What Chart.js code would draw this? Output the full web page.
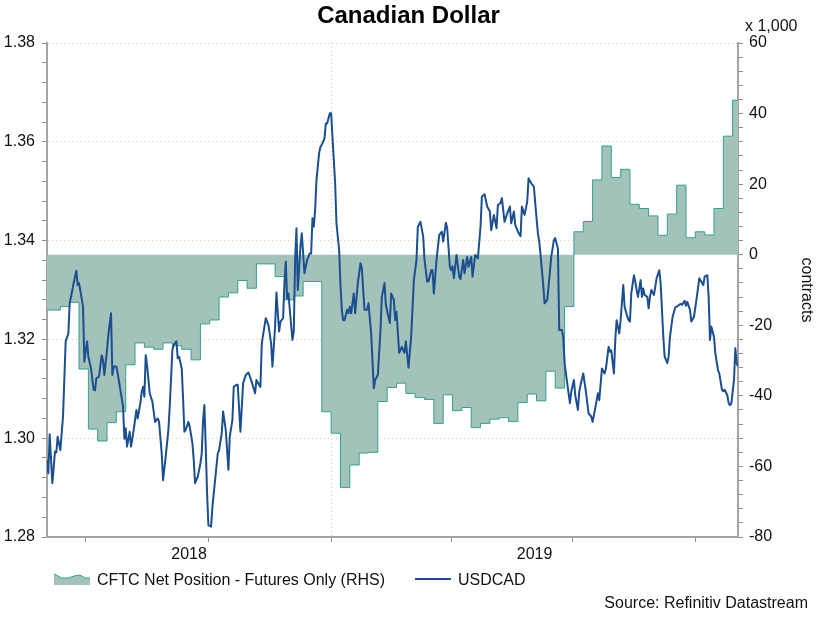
<!DOCTYPE html>
<html><head><meta charset="utf-8">
<script src="https://cdn.jsdelivr.net/npm/chart.js@4.4.1/dist/chart.umd.min.js"></script>
<style>
html,body{margin:0;padding:0;background:#fff;}
#wrap{position:relative;width:824px;height:631px;overflow:hidden;font-family:"Liberation Sans",Arial,sans-serif;color:#111;background:#fff;}
#c{position:absolute;left:0;top:0;}
.t{position:absolute;white-space:nowrap;font-size:16px;line-height:16px;}
</style></head><body>
<div id="wrap">
<canvas id="c" width="824" height="631"></canvas>
<div class="t" style="left:0;width:817px;text-align:center;top:3px;font-size:24px;line-height:24px;font-weight:bold;color:#000;">Canadian Dollar</div>
<div class="t" style="left:745px;top:18px;">x 1,000</div>
<div class="t" style="left:757px;top:282px;width:100px;text-align:center;transform:rotate(90deg);">contracts</div>
<svg style="position:absolute;left:54px;top:572px;" width="36" height="13" viewBox="0 0 36 13">
  <polygon points="0,2 8,6 14,6 20,4 26,3 31,6 36,6 36,13 0,13" fill="rgb(163,194,186)"/>
  <polyline points="0,2 8,6 14,6 20,4 26,3 31,6 36,6" fill="none" stroke="rgb(52,160,142)" stroke-width="1"/>
</svg>
<div class="t" style="left:97px;top:572px;">CFTC Net Position - Futures Only (RHS)</div>
<div style="position:absolute;left:415px;top:578px;width:36px;height:2px;background:#1c4f8f;"></div>
<div class="t" style="left:458px;top:572px;">USDCAD</div>
<div class="t" style="right:16px;top:595px;">Source: Refinitiv Datastream</div>
</div>
<script>
// ---- time frame (days counted from 2019-01-01) ----
const BASE = Date.UTC(2019, 0, 1);
const dayOf = s => (Date.parse(s + 'T00:00:00Z') - BASE) / 86400000;

const xStart = '2018-06-02';
const xEnd = '2019-11-02';
const quarterTicks = ['2018-07-01', '2018-10-01', '2019-01-01', '2019-04-01', '2019-07-01', '2019-10-01'];
const yearLabels = ['2018', '2019'];
const yearBoundary = '2019-01-01';

// ---- USDCAD (daily, day offset from 2019-01-01) ----
const usdcadDay = [
-213,-212,-211,-209,-207,-206,-205,-203,-201,-199,-197,-196,-194,-193,-191,-190,-189,-187,-186,-185,
-183,-182,-180,-178,-177,-176,-174,-172,-171,-170,-168,-167,-165,-164,-163,-161,-160,-158,-156,-155,
-154,-153,-151,-150,-148,-146,-145,-143,-142,-141,-140,-139,-138,-136,-134,-132,-130,-129,-127,-126,
-124,-122,-121,-119,-118,-116,-115,-114,-112,-111,-110,-109,-107,-106,-104,-103,-102,-100,-98,-97,
-96,-95,-94,-93,-92,-90,-89,-87,-85,-84,-82,-81,-79,-77,-76,-74,-73,-71,-70,-68,
-66,-64,-62,-60,-57,-56,-54,-53,-52,-49,-47,-45,-44,-42,-41,-39,-38,-36,-35,-34,
-33,-32,-31,-29,-28,-27,-26,-25,-23,-22,-20,-18,-16,-15,-14,-13,-12,-11,-9,-8,
-7,-5,-4,-3,-1,0,1,3,4,6,7,8,9,10,12,13,14,15,17,18,
20,22,23,25,27,28,30,32,33,35,37,38,40,41,44,45,47,48,49,51,
53,55,56,58,60,62,64,65,67,69,70,72,73,75,76,77,79,81,83,84,
86,87,89,90,91,92,94,96,97,99,100,102,103,105,106,108,110,112,113,115,
117,119,120,122,124,125,127,128,130,132,134,135,137,138,140,142,143,145,147,148,
150,152,153,155,156,157,159,160,162,163,165,167,168,170,171,173,174,175,177,179,
180,182,183,185,186,187,189,191,193,195,196,198,200,201,203,205,206,208,209,210,
212,213,214,216,217,219,220,222,223,224,225,227,228,229,230,232,233,234,235,237,
238,239,240,242,243,244,246,247,248,249,250,252,253,254,256,258,260,262,263,265,
266,267,269,270,272,274,276,277,279,280,282,283,284,285,287,288,290,291,293,294,
295,297,298,299,300,302,303,304,305
];
const usdcadValue = [
1.2956,1.2929,1.3008,1.2909,1.2973,1.2971,1.3003,1.2976,1.3044,1.3196,1.3212,1.3273,1.3300,1.3314,1.3339,1.3310,1.3314,1.3283,1.3266,1.3155,
1.3196,1.3165,1.3141,1.3098,1.3097,1.3121,1.3125,1.3168,1.3158,1.3128,1.3179,1.3209,1.3253,1.3128,1.3145,1.3145,1.3131,1.3098,1.3064,1.2999,
1.3020,1.2983,1.3013,1.2983,1.3017,1.3057,1.3040,1.3071,1.3094,1.3104,1.3084,1.3168,1.3148,1.3091,1.3074,1.3033,1.3040,1.3033,1.2969,1.2915,
1.2963,1.3017,1.3064,1.3179,1.3189,1.3196,1.3162,1.3165,1.3141,1.3081,1.3013,1.3017,1.3033,1.3023,1.2990,1.2956,1.2909,1.2922,1.2949,1.2969,
1.3037,1.3067,1.2983,1.2888,1.2824,1.2821,1.2861,1.2915,1.2969,1.2976,1.3010,1.3054,1.3017,1.2936,1.3003,1.3037,1.3104,1.3108,1.3108,1.3013,
1.3111,1.3128,1.3133,1.3118,1.3091,1.3118,1.3108,1.3104,1.3192,1.3243,1.3229,1.3192,1.3145,1.3226,1.3295,1.3216,1.3236,1.3243,1.3314,1.3357,
1.3283,1.3293,1.3260,1.3199,1.3216,1.3361,1.3425,1.3300,1.3388,1.3415,1.3334,1.3361,1.3374,1.3374,1.3445,1.3428,1.3462,1.3523,1.3577,1.3590,
1.3594,1.3607,1.3637,1.3637,1.3658,1.3658,1.3610,1.3516,1.3435,1.3381,1.3310,1.3260,1.3239,1.3239,1.3260,1.3253,1.3266,1.3253,1.3293,1.3253,
1.3314,1.3354,1.3344,1.3260,1.3260,1.3273,1.3212,1.3101,1.3118,1.3128,1.3219,1.3286,1.3314,1.3270,1.3233,1.3293,1.3280,1.3239,1.3256,1.3173,
1.3185,1.3173,1.3196,1.3143,1.3206,1.3320,1.3361,1.3428,1.3438,1.3408,1.3361,1.3317,1.3317,1.3340,1.3340,1.3293,1.3361,1.3411,1.3418,1.3398,
1.3436,1.3425,1.3347,1.3340,1.3348,1.3324,1.3371,1.3327,1.3322,1.3361,1.3334,1.3367,1.3347,1.3367,1.3327,1.3371,1.3364,1.3428,1.3489,1.3494,
1.3469,1.3459,1.3421,1.3452,1.3425,1.3472,1.3476,1.3486,1.3438,1.3455,1.3469,1.3435,1.3459,1.3432,1.3418,1.3409,1.3469,1.3452,1.3479,1.3526,
1.3516,1.3509,1.3476,1.3415,1.3398,1.3371,1.3310,1.3273,1.3280,1.3307,1.3367,1.3401,1.3405,1.3384,1.3219,1.3219,1.3205,1.3152,1.3111,1.3071,
1.3094,1.3118,1.3087,1.3057,1.3094,1.3108,1.3131,1.3094,1.3050,1.3044,1.3033,1.3061,1.3091,1.3077,1.3141,1.3131,1.3141,1.3185,1.3175,1.3178,
1.3131,1.3199,1.3239,1.3212,1.3239,1.3310,1.3266,1.3246,1.3239,1.3236,1.3293,1.3330,1.3317,1.3300,1.3286,1.3320,1.3286,1.3303,1.3290,1.3286,
1.3263,1.3286,1.3300,1.3290,1.3307,1.3324,1.3340,1.3314,1.3260,1.3205,1.3165,1.3152,1.3165,1.3205,1.3246,1.3265,1.3268,1.3272,1.3270,1.3278,
1.3268,1.3276,1.3260,1.3236,1.3246,1.3283,1.3324,1.3319,1.3310,1.3327,1.3330,1.3286,1.3199,1.3226,1.3205,1.3172,1.3138,1.3131,1.3098,1.3095,
1.3098,1.3087,1.3071,1.3067,1.3070,1.3118,1.3182,1.3152,1.3145
];

// ---- CFTC net position, futures only (thousand contracts), weekly ----
const cftcFirstWeek = '2018-05-29';
const cftcNet = [
-15.7,-15.7,-14.7,-13.5,-32.4,-49.4,-52.8,-47.6,-44.5,-31.2,
-25.0,-26.2,-26.8,-25.0,-25.8,-26.8,-29.8,-19.6,-18.5,-12.0,
-10.8,-7.3,-9.5,-2.6,-2.6,-6.2,-12.8,-11.7,-7.6,-7.6,
-44.5,-50.6,-66.0,-59.6,-56.2,-56.0,-41.6,-37.6,-36.4,-39.3,
-40.5,-41.0,-47.8,-39.7,-44.2,-43.3,-49.0,-47.8,-46.6,-46.2,
-47.3,-41.9,-39.5,-41.4,-33.0,-37.8,-14.7,6.5,9.4,21.2,
30.8,21.9,24.2,14.3,13.1,11.0,5.5,11.5,19.7,4.8,
6.5,5.6,13.1,33.6,43.8,43.8
];

// ---- axes ----
const leftMin = 1.28, leftMax = 1.38, leftMinor = 0.004, leftMajor = 0.02;
const rightMin = -80, rightMax = 60, rightMinor = 4, rightMajor = 20;

const FONT = '"Liberation Sans", Arial, sans-serif';
const isMult = (v, m) => Math.abs(v / m - Math.round(v / m)) < 1e-6;

const fxPoints = usdcadDay.map((d, i) => ({x: d, y: usdcadValue[i]}));
const cftcStart = dayOf(cftcFirstWeek);
const cftcPoints = cftcNet.map((v, i) => ({x: cftcStart + 7 * i, y: v}));

const xMin = dayOf(xStart), xMax = dayOf(xEnd), yb = dayOf(yearBoundary);
const yearPos = [(xMin + yb) / 2, (yb + xMax) / 2];
const quarterDays = quarterTicks.map(dayOf);
const labelAt = v => { const k = yearPos.findIndex(p => Math.abs(p - v) < 1e-6); return k >= 0 ? yearLabels[k] : ''; };
const isYearTick = v => yearPos.some(p => Math.abs(p - v) < 1e-6);

new Chart(document.getElementById('c'), {
  type: 'line',
  data: {
    datasets: [
      {
        label: 'USDCAD', data: fxPoints, yAxisID: 'y', xAxisID: 'x',
        borderColor: '#1c4f8f', borderWidth: 2, pointRadius: 0, tension: 0, fill: false, order: 0,
        borderJoinStyle: 'round'
      },
      {
        label: 'CFTC Net Position - Futures Only (RHS)', data: cftcPoints, yAxisID: 'y2', xAxisID: 'x',
        stepped: true, fill: 'origin', backgroundColor: 'rgb(163,194,186)', borderColor: 'rgb(52,160,142)',
        borderWidth: 1, pointRadius: 0, order: 1
      }
    ]
  },
  options: {
    responsive: false, animation: false, devicePixelRatio: 1,
    layout: {padding: {top: 43, bottom: 64, left: 0, right: 0}},
    plugins: {legend: {display: false}, tooltip: {enabled: false}, title: {display: false}},
    scales: {
      x: {
        type: 'linear', position: 'bottom', min: xMin, max: xMax,
        afterBuildTicks: s => {
          s.ticks = quarterDays.concat(yearPos).sort((a, b) => a - b).map(v => ({value: v}));
        },
        ticks: {autoSkip: false, maxRotation: 0, minRotation: 0, padding: 3, color: '#111',
          font: {family: FONT, size: 16}, callback: v => labelAt(v)},
        grid: {
          color: c => (c.tick && Math.abs(c.tick.value - yb) < 1e-6) ? 'rgb(232,190,200)' : 'rgba(0,0,0,0)',
          tickColor: c => (c.tick && isYearTick(c.tick.value)) ? 'rgba(0,0,0,0)' : '#8c8c8c',
          tickLength: 5, lineWidth: 1
        },
        border: {color: '#a3a3a3', width: 2, dash: [1, 3]},
        afterFit: s => { s.height = 30; }
      },
      y: {
        type: 'linear', position: 'left', min: leftMin, max: leftMax,
        ticks: {stepSize: leftMinor, autoSkip: false, padding: 7, color: '#111', font: {family: FONT, size: 16},
          callback: v => isMult(v, leftMajor) ? v.toFixed(2) : ''},
        grid: {
          color: c => (c.tick && isMult(c.tick.value, leftMajor)) ? 'rgb(222,212,150)' : 'rgba(0,0,0,0)',
          tickColor: '#8c8c8c', tickLength: 5, lineWidth: 1
        },
        border: {color: '#a3a3a3', width: 2, dash: [1, 3]},
        afterFit: s => { s.width = 47; }
      },
      y2: {
        type: 'linear', position: 'right', min: rightMin, max: rightMax,
        ticks: {stepSize: rightMinor, autoSkip: false, padding: 6, color: '#111', font: {family: FONT, size: 16},
          callback: v => isMult(v, rightMajor) ? String(Math.round(v)) : ''},
        grid: {drawOnChartArea: false, tickColor: '#8c8c8c', tickLength: 5},
        border: {color: '#a3a3a3', width: 2},
        afterFit: s => { s.width = 86; }
      }
    }
  }
});
</script>
</body></html>
